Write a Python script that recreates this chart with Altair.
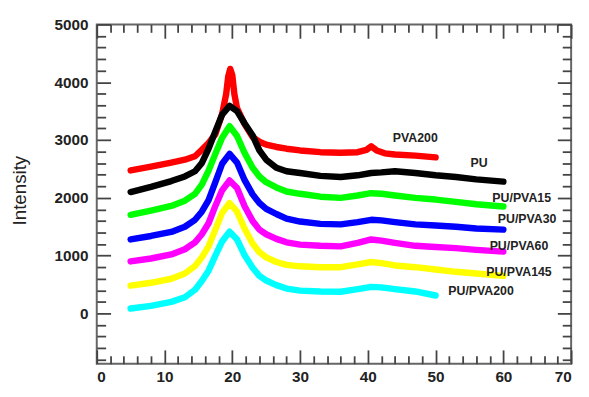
import altair as alt
import pandas as pd

# ---- data ----
X_COMMON = [5, 8, 11, 13, 14.5, 15.5, 16.5, 17.5, 18.5, 19.6, 20.7, 21.8, 23, 24, 25,
            26.5, 28, 30, 33, 36, 38.5, 40.5, 42, 44, 47, 50, 53, 56, 60]

x_pva200 = [5, 8, 11, 13, 14.5, 15.5, 16.5, 17.5, 18.5, 19.1, 19.4, 19.7, 20.0, 20.3, 20.7,
            21.8, 23, 24, 25, 26.5, 28, 30, 33, 36, 38.5, 39.8, 40.5, 41.3, 42.5, 44, 47, 50]
y_pva200 = [2474, 2540, 2610, 2660, 2720, 2830, 2950, 3100, 3450, 3800, 4100, 4230, 4120, 3800, 3550,
            3280, 3050, 2970, 2920, 2880, 2850, 2820, 2790, 2780, 2790, 2830, 2890, 2820, 2770, 2750, 2730, 2700]

y_pu = [2100, 2190, 2290, 2370, 2460, 2600, 2850, 3150, 3440, 3590, 3500, 3290, 3080, 2820, 2660,
        2520, 2460, 2430, 2380, 2360, 2390, 2430, 2440, 2460, 2430, 2390, 2360, 2320, 2280]
y_pu15 = [1706, 1780, 1860, 1950, 2070, 2230, 2470, 2760, 3040, 3240, 3070, 2780, 2520, 2370, 2270,
          2180, 2110, 2070, 2020, 2000, 2040, 2080, 2070, 2040, 2000, 1970, 1930, 1890, 1850]
y_pu30 = [1280, 1340, 1410, 1500, 1620, 1760, 1960, 2270, 2590, 2760, 2610, 2310, 2060, 1910, 1810,
          1720, 1640, 1590, 1550, 1540, 1580, 1620, 1610, 1580, 1540, 1520, 1500, 1470, 1450]
y_pu60 = [900, 950, 1020, 1110, 1230, 1370, 1560, 1860, 2130, 2300, 2170, 1860, 1600, 1450, 1370,
          1290, 1230, 1190, 1170, 1160, 1220, 1280, 1260, 1220, 1170, 1150, 1130, 1100, 1070]
y_pu145 = [480, 530, 600, 690, 820, 970, 1160, 1450, 1740, 1910, 1760, 1470, 1210, 1060, 970,
           890, 840, 815, 800, 800, 850, 890, 870, 830, 800, 760, 720, 690, 650]
x_pu200 = X_COMMON[:26]
y_pu200 = [85, 130, 200, 280, 410, 560, 740, 1000, 1245, 1416, 1280, 1010, 790, 650, 570,
           490, 430, 395, 380, 375, 420, 460, 450, 420, 380, 310]

series_names = ["PVA200", "PU", "PU/PVA15", "PU/PVA30", "PU/PVA60", "PU/PVA145", "PU/PVA200"]
series_colors = ["#ff0000", "#000000", "#00ff00", "#0000ff", "#ff00ff", "#ffff00", "#00ffff"]
series_x = [x_pva200, X_COMMON, X_COMMON, X_COMMON, X_COMMON, X_COMMON, x_pu200]
series_y = [y_pva200, y_pu, y_pu15, y_pu30, y_pu60, y_pu145, y_pu200]

label_x = [47.0, 56.4, 62.7, 63.5, 62.3, 62.3, 56.7]
label_y = [3040, 2610, 2000, 1640, 1160, 717, 392]

x_ticks_all = list(range(0, 71, 2))
x_ticks_major = list(range(0, 71, 10))
y_ticks_all = list(range(-800, 5001, 200))
y_ticks_major = list(range(0, 5001, 1000))

rows = []
for i, (name, xs, ys) in enumerate(zip(series_names, series_x, series_y)):
    for j, (xv, yv) in enumerate(zip(xs, ys)):
        rows.append({"series": name, "order": i, "idx": j, "x": xv, "y": yv})
df = pd.DataFrame(rows)
labels_df = pd.DataFrame({"label": series_names, "x": label_x, "y": label_y})

W, H = 481, 344
XD = [0, 70]
YD = [-870, 5000]
FONT = "Liberation Sans"

xs = alt.Scale(domain=XD, nice=False, zero=False)
ys = alt.Scale(domain=YD, nice=False, zero=False)
color = alt.Color("series:N", scale=alt.Scale(domain=series_names, range=series_colors), legend=None)

x_tick_size = {"condition": {"test": "datum.value % 10 === 0", "value": 14}, "value": 8}
y_tick_size = {"condition": {"test": "datum.value % 1000 === 0", "value": 14}, "value": 9}
tick_common = dict(labels=False, domain=False, ticks=True, title=None, grid=False,
                   tickColor="#444", tickWidth=1.8)

# main lines with labelled axes
lines = alt.Chart(df).mark_line(strokeWidth=6.5, strokeJoin="round", strokeCap="round").encode(
    x=alt.X("x:Q", scale=xs, axis=alt.Axis(orient="bottom", values=x_ticks_major, ticks=False, tickSize=0,
                                            domain=False, grid=False, title=None, labelFont=FONT,
                                            labelFontSize=15.5, labelFontWeight="bold", labelColor="#222",
                                            labelPadding=6, format="d")),
    y=alt.Y("y:Q", scale=ys, axis=alt.Axis(orient="left", values=y_ticks_major, ticks=False, tickSize=0,
                                            domain=False, grid=False, title="Intensity", labelFont=FONT,
                                            labelFontSize=15.5, labelFontWeight="bold", labelColor="#222",
                                            labelPadding=9, format="d", titleFont=FONT, titleFontSize=19,
                                            titleFontWeight="normal", titleColor="#222",
                                            titleX=-78, titleY=H / 2 - 4, titleBaseline="middle")),
    color=color,
    detail="series:N",
    order="idx:Q",
)

# inward ticks on bottom (top-oriented axis moved down) and left (right-oriented axis moved left)
ticks_bl = alt.Chart(df).mark_line(strokeOpacity=0).encode(
    x=alt.X("x:Q", scale=xs, axis=alt.Axis(orient="top", offset=-H, values=x_ticks_all,
                                            tickSize=x_tick_size, **tick_common)),
    y=alt.Y("y:Q", scale=ys, axis=alt.Axis(orient="right", offset=-W, values=y_ticks_all,
                                            tickSize=y_tick_size, **tick_common)),
    detail="series:N",
)

# inward ticks on top and right
ticks_tr = alt.Chart(df).mark_line(strokeOpacity=0).encode(
    x=alt.X("x:Q", scale=xs, axis=alt.Axis(orient="bottom", offset=-H, values=x_ticks_all,
                                            tickSize=x_tick_size, **tick_common)),
    y=alt.Y("y:Q", scale=ys, axis=alt.Axis(orient="left", offset=-W, values=y_ticks_all,
                                            tickSize=y_tick_size, **tick_common)),
    detail="series:N",
)

texts = alt.Chart(labels_df).mark_text(font=FONT, fontSize=12.5, fontWeight="bold", color="#222").encode(
    x=alt.X("x:Q", scale=xs, axis=None),
    y=alt.Y("y:Q", scale=ys, axis=None),
    text="label:N",
)

chart = alt.layer(lines, ticks_bl, ticks_tr, texts).resolve_axis(
    x="independent", y="independent"
).properties(
    width=W, height=H,
    autosize=alt.AutoSizeParams(type="none"),
    padding={"left": 90, "top": 14, "right": 10, "bottom": 25},
).configure_view(stroke="#666", strokeWidth=2)

chart.save("out.html", embed_options={"renderer": "svg", "actions": False})
